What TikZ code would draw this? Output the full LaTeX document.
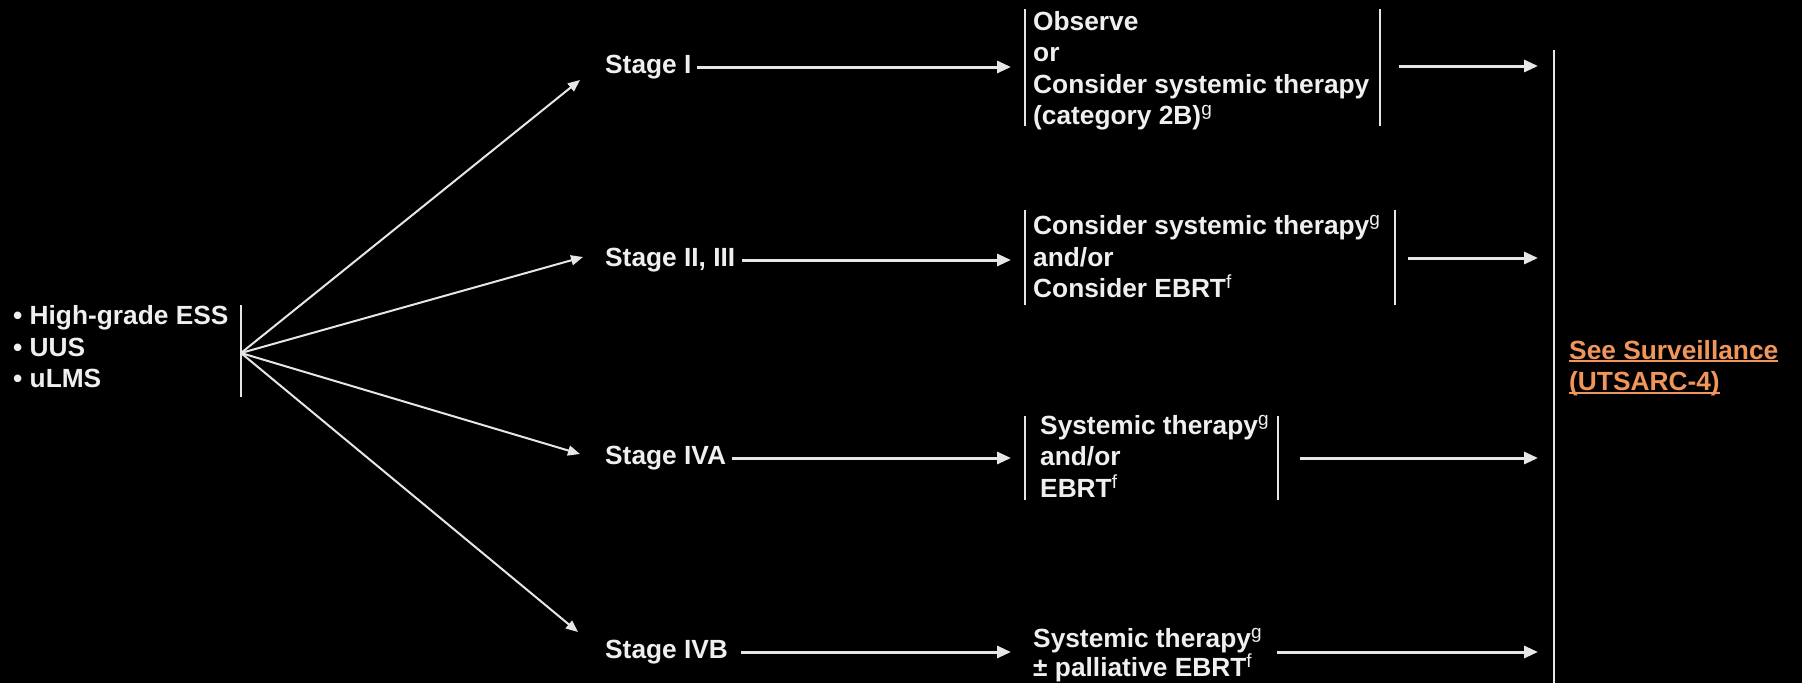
\documentclass[tikz,border=0pt]{standalone}
\usepackage{fontspec}
\setmainfont{Liberation Sans}
\usetikzlibrary{arrows.meta}
\definecolor{fg}{HTML}{EFEFEF}
\definecolor{ln}{HTML}{E6E6E6}
\definecolor{lnk}{HTML}{F0965A}
\newlength\mylen
\newcommand\myul[1]{\settowidth\mylen{#1}\rlap{\color{lnk}\rule[-3pt]{\mylen}{2pt}}#1}
\newcommand\sups[1]{\raisebox{9pt}{\fontsize{19}{19}\selectfont\mdseries #1}}
\begin{document}
\begin{tikzpicture}[x=1pt,y=-1pt,
  txt/.style={text=fg, font=\fontsize{26.3}{31.5}\selectfont\bfseries, inner sep=0pt, align=left, anchor=west},
  harr/.style={draw=ln, line width=3pt, -{Triangle[length=14pt,width=12pt]}},
  darr/.style={draw=ln, line width=2pt, -{Triangle[length=12pt,width=10pt]}},
  bar/.style={draw=ln, line width=2.5pt},
]
\fill[black] (0,0) rectangle (1802,683);
\useasboundingbox (0,0) rectangle (1802,683);

% source
\node[txt] (src) at (13,347) {• High-grade ESS\\• UUS\\• uLMS};
\coordinate (srcT) at (241,305);
\coordinate (srcB) at (241,397);
\coordinate (S) at (241,353);
\draw[bar] (srcT) -- (srcB);

% stages
\node[txt] (s1) at (605,67) {Stage I};
\node[txt] (s2) at (605,260) {Stage II, III};
\node[txt] (s3) at (605,458) {Stage IVA};
\node[txt] (s4) at (605,652) {Stage IVB};
\coordinate (e1) at (580,80);
\coordinate (e2) at (583,257);
\coordinate (e3) at (580,454);
\coordinate (e4) at (578,632);
\draw[darr] (S) -- (e1);
\draw[darr] (S) -- (e2);
\draw[darr] (S) -- (e3);
\draw[darr] (S) -- (e4);

% box targets
\coordinate (a1) at (1011,0);
\coordinate (out) at (1538,0);

% box 1
\node[txt] (b1) at (1033,71) {Observe\\or\\Consider systemic therapy\\(category 2B)\sups{g}};
\coordinate (b1LT) at (1025,9);   \coordinate (b1LB) at (1025,126);
\coordinate (b1RT) at (1380,9);   \coordinate (b1RB) at (1380,126);
\draw[bar] (b1LT) -- (b1LB);
\draw[bar] (b1RT) -- (b1RB);
\coordinate (o1) at (1399,66);
\draw[harr] ([xshift=5pt]s1.east) -- (s1.east -| a1);
\draw[harr] (o1) -- (o1 -| out);

% box 2
\node[txt] (b2) at (1033,257) {Consider systemic therapy\sups{g}\\and/or\\Consider EBRT\sups{f}};
\coordinate (b2LT) at (1025,210);  \coordinate (b2LB) at (1025,305);
\coordinate (b2RT) at (1395,210);  \coordinate (b2RB) at (1395,305);
\draw[bar] (b2LT) -- (b2LB);
\draw[bar] (b2RT) -- (b2RB);
\coordinate (o2) at (1408,258);
\draw[harr] ([xshift=7pt]s2.east) -- (s2.east -| a1);
\draw[harr] (o2) -- (o2 -| out);

% box 3
\node[txt] (b3) at (1040,456) {Systemic therapy\sups{g}\\and/or\\EBRT\sups{f}};
\coordinate (b3LT) at (1025,416);  \coordinate (b3LB) at (1025,500);
\coordinate (b3RT) at (1278,416);  \coordinate (b3RB) at (1278,500);
\draw[bar] (b3LT) -- (b3LB);
\draw[bar] (b3RT) -- (b3RB);
\coordinate (o3) at (1300,458);
\draw[harr] ([xshift=6pt]s3.east) -- (s3.east -| a1);
\draw[harr] (o3) -- (o3 -| out);

% box 4
\node[txt, font=\fontsize{26.3}{28}\selectfont\bfseries] (b4) at (1033,655) {Systemic therapy\sups{g}\\± palliative EBRT\sups{f}};
\coordinate (o4) at (1277,652);
\draw[harr] ([xshift=13pt]s4.east) -- (s4.east -| a1);
\draw[harr] (o4) -- (o4 -| out);

% surveillance
\coordinate (bigT) at (1554,50);
\coordinate (bigB) at (1554,683);
\draw[bar] (bigT) -- (bigB);
\node[txt, text=lnk] (see) at (1569,368) {\myul{See Surveillance}\\\myul{(UTSARC-4)}};
\end{tikzpicture}
\end{document}
